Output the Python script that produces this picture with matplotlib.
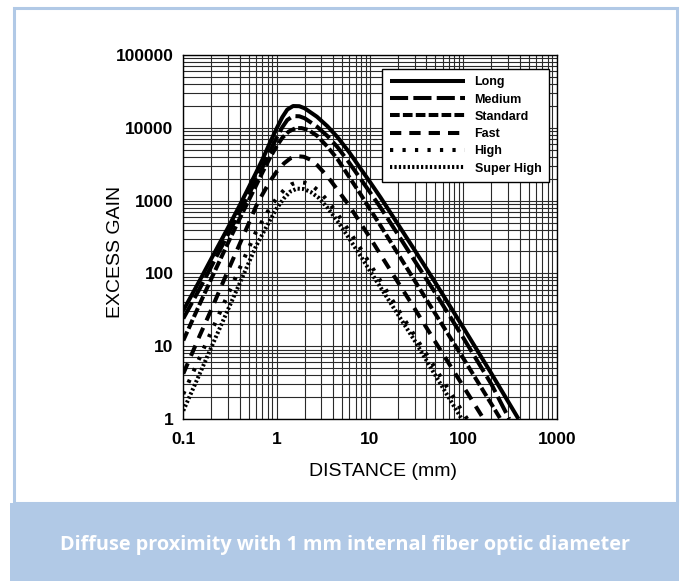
import matplotlib.pyplot as plt
from matplotlib.patches import Rectangle
from matplotlib.ticker import FixedLocator, LogLocator, NullFormatter

# curves (distance mm, excess gain)
series_names = ["Long", "Medium", "Standard", "Fast", "High", "Super High"]

long_x = [0.1, 0.15, 0.2, 0.3, 0.4, 0.5, 0.6, 0.7, 0.85, 1.0, 1.15, 1.3, 1.5, 1.75, 2.0, 2.7, 3.5, 4.5, 6, 8, 10, 13, 20, 30, 50, 100, 200, 390]
long_y = [31, 80, 160, 420, 850, 1500, 2400, 3600, 6300, 9800, 14000, 17800, 19900, 19800, 18500, 14200, 10500, 7400, 4600, 2700, 1800, 1100, 470, 210, 75, 18, 4.2, 1]

medium_x = [0.1, 0.15, 0.2, 0.3, 0.4, 0.5, 0.6, 0.7, 0.85, 1.0, 1.15, 1.3, 1.5, 1.75, 2.0, 2.7, 3.5, 4.5, 6, 8, 10, 13, 20, 30, 50, 100, 200, 310]
medium_y = [24, 62, 125, 340, 700, 1200, 1900, 2800, 4800, 7300, 10200, 12800, 14500, 14400, 13500, 10400, 7700, 5400, 3300, 1950, 1300, 800, 340, 150, 54, 13, 3.0, 1]

standard_x = [0.1, 0.15, 0.2, 0.3, 0.4, 0.5, 0.6, 0.7, 0.85, 1.0, 1.15, 1.35, 1.6, 1.85, 2.2, 2.7, 3.5, 4.5, 6, 8, 10, 13, 20, 30, 50, 100, 200, 250]
standard_y = [12, 38, 85, 260, 560, 1000, 1600, 2400, 3900, 5600, 7300, 8900, 9900, 9900, 9300, 7800, 5500, 3700, 2100, 1200, 760, 450, 185, 80, 28, 6.8, 1.6, 1]

fast_x = [0.1, 0.15, 0.2, 0.3, 0.4, 0.5, 0.6, 0.7, 0.85, 1.0, 1.2, 1.4, 1.65, 1.95, 2.3, 2.7, 3.5, 4.5, 6, 8, 10, 13, 20, 30, 50, 100, 165]
fast_y = [4.2, 14, 32, 108, 250, 480, 830, 1200, 1850, 2500, 3250, 3800, 4080, 4000, 3650, 3100, 2150, 1400, 850, 480, 310, 180, 75, 33, 11.5, 2.8, 1]

high_x = [0.1, 0.15, 0.2, 0.3, 0.4, 0.5, 0.6, 0.7, 0.85, 1.0, 1.2, 1.45, 1.7, 2.0, 2.4, 2.9, 3.5, 4.5, 6, 8, 10, 13, 20, 30, 50, 100, 110]
high_y = [2.2, 7.0, 16, 51, 116, 220, 370, 520, 800, 1080, 1400, 1680, 1800, 1760, 1600, 1320, 1000, 650, 380, 215, 135, 78, 32, 14, 5.0, 1.2, 1]

superhigh_x = [0.1, 0.15, 0.2, 0.3, 0.4, 0.5, 0.6, 0.7, 0.85, 1.0, 1.2, 1.4, 1.65, 1.95, 2.3, 2.8, 3.5, 4.5, 6, 8, 10, 13, 20, 30, 50, 96]
superhigh_y = [1.3, 4.2, 9.7, 31.5, 72, 138, 235, 340, 540, 780, 1080, 1330, 1460, 1440, 1320, 1100, 800, 520, 300, 170, 108, 64, 27, 12, 4.0, 1]

x_ticks = [0.1, 1, 10, 100, 1000]
x_tick_labels = ["0.1", "1", "10", "100", "1000"]
y_ticks = [1, 10, 100, 1000, 10000, 100000]
y_tick_labels = ["1", "10", "100", "1000", "10000", "100000"]

caption = "Diffuse proximity with 1 mm internal fiber optic diameter"

W, H = 681, 581
blue = "#b1c9e6"
sans = ["Liberation Sans", "DejaVu Sans"]

fig = plt.figure(figsize=(W / 100, H / 100), dpi=100)

# frame + caption band, drawn in pixel coords
bg = fig.add_axes([0, 0, 1, 1], zorder=-1)
bg.set_xlim(0, W)
bg.set_ylim(H, 0)
bg.axis("off")
bg.add_patch(Rectangle((13.5, 8), 663, 495, fill=False, edgecolor=blue, lw=2.2))
bg.add_patch(Rectangle((10, 503), 669, 78, facecolor=blue, edgecolor="none"))
bg.text(345, 545, caption, color="white", ha="center", va="center",
        fontsize=14.3, family=["Open Sans", "DejaVu Sans"], weight="bold")

ax = fig.add_axes([183.3 / W, (H - 419) / H, 373.4 / W, 364 / H])
ax.set_xscale("log")
ax.set_yscale("log")
ax.set_xlim(0.1, 1000)
ax.set_ylim(1, 100000)

all_x = [long_x, medium_x, standard_x, fast_x, high_x, superhigh_x]
all_y = [long_y, medium_y, standard_y, fast_y, high_y, superhigh_y]
dash_styles = [None, (4.5, 1.3), (2.4, 0.8), (2.8, 2.0), (0.8, 2.3), (0.55, 0.55)]

for name, xs, ys, d in zip(series_names, all_x, all_y, dash_styles):
    line, = ax.plot(xs, ys, color="black", lw=2.9, label=name, solid_capstyle="butt")
    if d is not None:
        line.set_dashes(d)

ax.xaxis.set_major_locator(FixedLocator(x_ticks))
ax.yaxis.set_major_locator(FixedLocator(y_ticks))
ax.xaxis.set_minor_locator(LogLocator(base=10, subs=range(2, 10), numticks=20))
ax.yaxis.set_minor_locator(LogLocator(base=10, subs=range(2, 10), numticks=20))
ax.xaxis.set_minor_formatter(NullFormatter())
ax.yaxis.set_minor_formatter(NullFormatter())
ax.set_xticklabels(x_tick_labels, fontsize=12.5, weight="bold", family=sans)
ax.set_yticklabels(y_tick_labels, fontsize=12.5, weight="bold", family=sans)
ax.tick_params(which="both", length=0)
ax.tick_params(axis="x", pad=9)
ax.tick_params(axis="y", pad=7)

ax.grid(which="both", color="#2a2a2a", lw=0.8)
for s in ax.spines.values():
    s.set_linewidth(1.0)

ax.set_xlabel("DISTANCE (mm)", fontsize=14, family=sans)
ax.set_ylabel("EXCESS GAIN", fontsize=14, family=sans)
ax.xaxis.set_label_coords(0.535, -0.12)
ax.yaxis.set_label_coords(-0.16, 0.46)

leg = ax.legend(loc="upper right", bbox_to_anchor=(0.979, 0.962), fancybox=False,
                framealpha=1, edgecolor="black", handlelength=6.0, handletextpad=0.8,
                labelspacing=0.42, borderpad=0.6, borderaxespad=0,
                prop={"family": sans, "weight": "bold", "size": 9})
leg.get_frame().set_linewidth(1.0)

fig.savefig("out.png", dpi=100)
